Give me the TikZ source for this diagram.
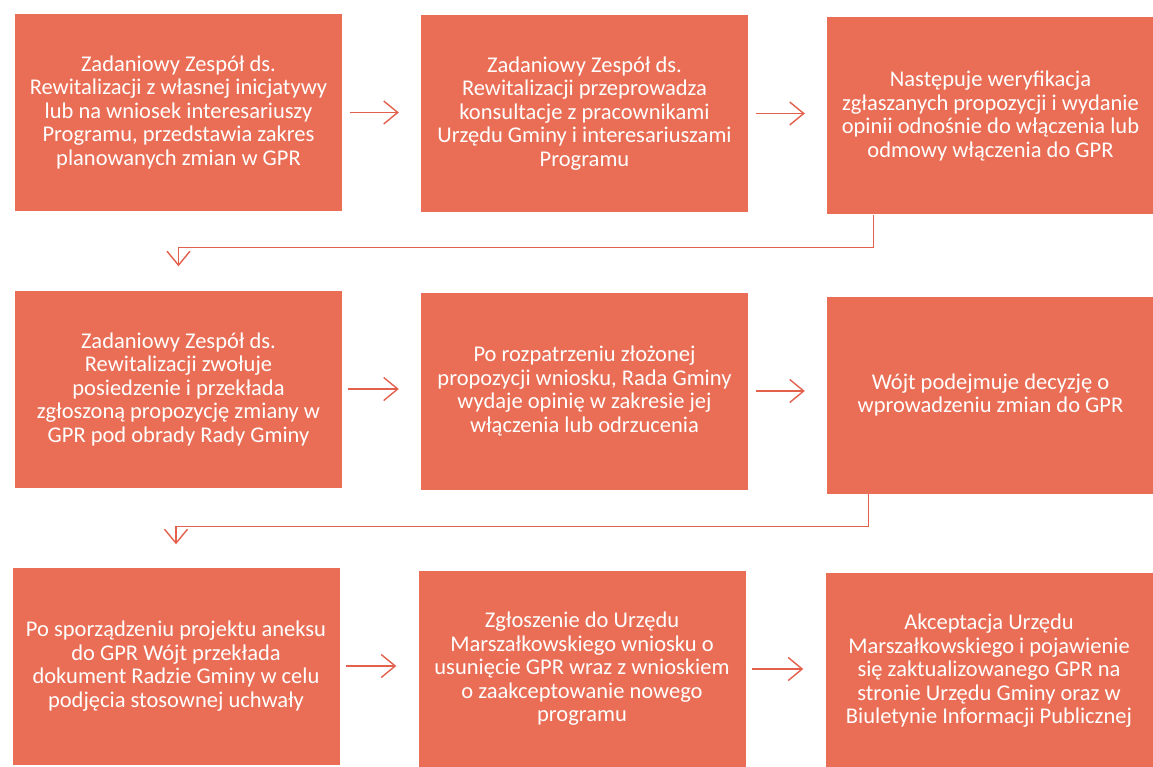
\documentclass[tikz,border=0pt]{standalone}
\usepackage{fontspec}
\setmainfont{Carlito}
\usetikzlibrary{arrows.meta}
\definecolor{boxfill}{RGB}{233,110,85}
\definecolor{linecol}{RGB}{226,96,76}
\begin{document}
\begin{tikzpicture}[x=1pt,y=-1pt,
  stepbox/.style={rectangle, fill=boxfill, draw=none, minimum width=327pt, minimum height=197pt,
    inner sep=4pt, align=center, text=white, font=\fontsize{22.5}{23.5}\selectfont},
  arr/.style={draw=linecol, line width=1.4pt, -{Straight Barb[length=14pt,width=23pt,line width=1.4pt]}}]
\fill[white] (0,0) rectangle (1153,767);
\useasboundingbox (0,0) rectangle (1153,767);
\node[stepbox] (b1) at (178.5,112.5) {Zadaniowy Zespół ds.\\Rewitalizacji z własnej inicjatywy\\lub na wniosek interesariuszy\\Programu, przedstawia zakres\\planowanych zmian w GPR};
\node[stepbox] (b2) at (584.5,113.5) {Zadaniowy Zespół ds.\\Rewitalizacji przeprowadza\\konsultacje z pracownikami\\Urzędu Gminy i interesariuszami\\Programu};
\node[stepbox] (b3) at (990.5,116) {Następuje weryfikacja\\zgłaszanych propozycji i wydanie\\opinii odnośnie do włączenia lub\\odmowy włączenia do GPR};
\node[stepbox] (b4) at (178.5,389) {Zadaniowy Zespół ds.\\Rewitalizacji zwołuje\\posiedzenie i przekłada\\zgłoszoną propozycję zmiany w\\GPR pod obrady Rady Gminy};
\node[stepbox] (b5) at (584.5,391) {Po rozpatrzeniu złożonej\\propozycji wniosku, Rada Gminy\\wydaje opinię w zakresie jej\\włączenia lub odrzucenia};
\node[stepbox] (b6) at (990.5,395) {Wójt podejmuje decyzję o\\wprowadzeniu zmian do GPR};
\node[stepbox] (b7) at (176,666) {Po sporządzeniu projektu aneksu\\do GPR Wójt przekłada\\dokument Radzie Gminy w celu\\podjęcia stosownej uchwały};
\node[stepbox] (b8) at (582,669) {Zgłoszenie do Urzędu\\Marszałkowskiego wniosku o\\usunięcie GPR wraz z wnioskiem\\o zaakceptowanie nowego\\programu};
\node[stepbox] (b9) at (989,671) {Akceptacja Urzędu\\Marszałkowskiego i pojawienie\\się zaktualizowanego GPR na\\stronie Urzędu Gminy oraz w\\Biuletynie Informacji Publicznej};
\draw[arr] ([xshift=8pt]b1.east) -- ([xshift=-22pt]b2.west |- b1.east);
\draw[arr] ([xshift=8pt]b2.east) -- ([xshift=-22pt]b3.west |- b2.east);
\draw[arr] ([xshift=6pt]b4.east) -- ([xshift=-22pt]b5.west |- b4.east);
\draw[arr] ([xshift=8pt]b5.east) -- ([xshift=-22pt]b6.west |- b5.east);
\draw[arr] ([xshift=6pt]b7.east) -- ([xshift=-22pt]b8.west |- b7.east);
\draw[arr] ([xshift=6pt]b8.east) -- ([xshift=-22pt]b9.west |- b8.east);
\draw[arr] ([xshift=-117pt]b3.south) -- ++(0,33) -| ([yshift=24pt]b4.north);
\draw[arr] ([xshift=-122pt]b6.south) -- ++(0,33) -| ([yshift=23pt]b7.north);
\end{tikzpicture}
\end{document}
